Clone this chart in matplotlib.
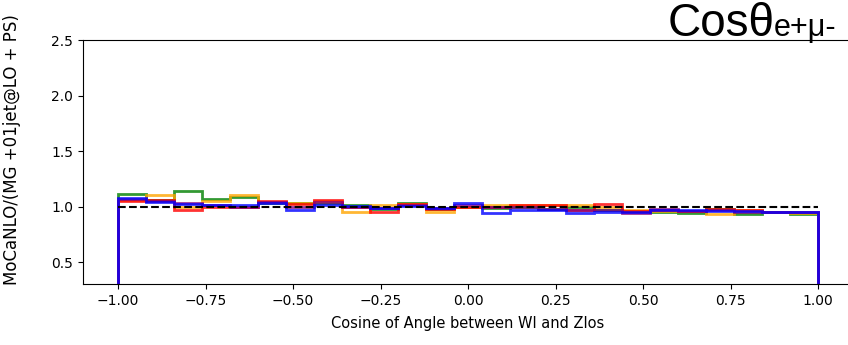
import numpy as np
import matplotlib
matplotlib.use("Agg")
from matplotlib import pyplot as plt

# 25 bins in cos(theta) between -1 and 1
edges = np.linspace(-1.0, 1.0, 26)

# ratio MoCaNLO / (MG +01jet@LO + PS) for each sample
green = [1.11, 1.06, 1.14, 1.07, 1.085, 1.035, 1.03, 1.03, 1.01, 0.98, 1.035, 0.98, 1.00,
         0.99, 1.00, 0.98, 1.00, 0.97, 0.96, 0.95, 0.94, 0.98, 0.93, 0.95, 0.93]
orange = [1.06, 1.10, 1.00, 1.05, 1.10, 1.04, 1.03, 1.05, 0.95, 1.01, 1.025, 0.955, 1.00,
          1.01, 1.01, 1.01, 1.01, 1.00, 0.97, 0.96, 0.96, 0.93, 0.97, 0.95, 0.94]
red = [1.05, 1.06, 0.97, 1.00, 0.995, 1.05, 1.02, 1.06, 0.995, 0.955, 1.02, 0.98, 1.00,
       1.00, 1.01, 1.01, 0.97, 1.02, 0.96, 0.97, 0.96, 0.98, 0.97, 0.95, 0.95]
purple = [1.07, 1.05, 1.03, 1.01, 1.00, 1.04, 1.00, 1.04, 1.00, 0.99, 1.01, 0.99, 1.01,
          1.00, 1.00, 0.98, 0.97, 0.97, 0.94, 0.975, 0.96, 0.97, 0.95, 0.95, 0.95]
blue = [1.08, 1.04, 1.025, 1.01, 1.01, 1.03, 0.966, 1.01, 1.005, 0.99, 1.005, 0.99, 1.035,
        0.945, 0.97, 0.97, 0.945, 0.95, 0.955, 0.97, 0.97, 0.96, 0.96, 0.95, 0.955]

series = [(green, "green"), (orange, "orange"), (red, "red"), (purple, "purple"), (blue, "blue")]

fig = plt.figure(figsize=(8.48, 3.45), dpi=100)
ax = fig.add_axes([83/848, 1 - 284.3/345, 770/848, 244.3/345])

for vals, col in series:
    ax.stairs(vals, edges, baseline=0, color=col, lw=2, alpha=0.8)

ax.hlines(1.0, -1.0, 1.0, colors="k", linestyles="--", lw=1.5)

ax.set_xlim(-1.1, 1.1)
ax.set_ylim(0.3, 2.5)
ax.set_xticks([-1.0, -0.75, -0.5, -0.25, 0.0, 0.25, 0.5, 0.75, 1.0])
ax.set_yticks([0.5, 1.0, 1.5, 2.0, 2.5])
ax.set_xlabel("Cosine of Angle between Wl and Zlos", fontsize=10.5, labelpad=6)
ax.set_ylabel("MoCaNLO/(MG +01jet@LO + PS)", fontsize=12)
ax.yaxis.set_label_coords(-0.08, 0.55)

# big title in the top right corner
fig.text(668/848, 1 - 36/345, "Cosθ", fontsize=33, va="baseline", ha="left",
         family="Liberation Sans")
fig.text(774/848, 1 - 36/345, "e+μ-", fontsize=22, va="baseline", ha="left",
         family="Liberation Sans")

fig.savefig("out.png", dpi=100)
